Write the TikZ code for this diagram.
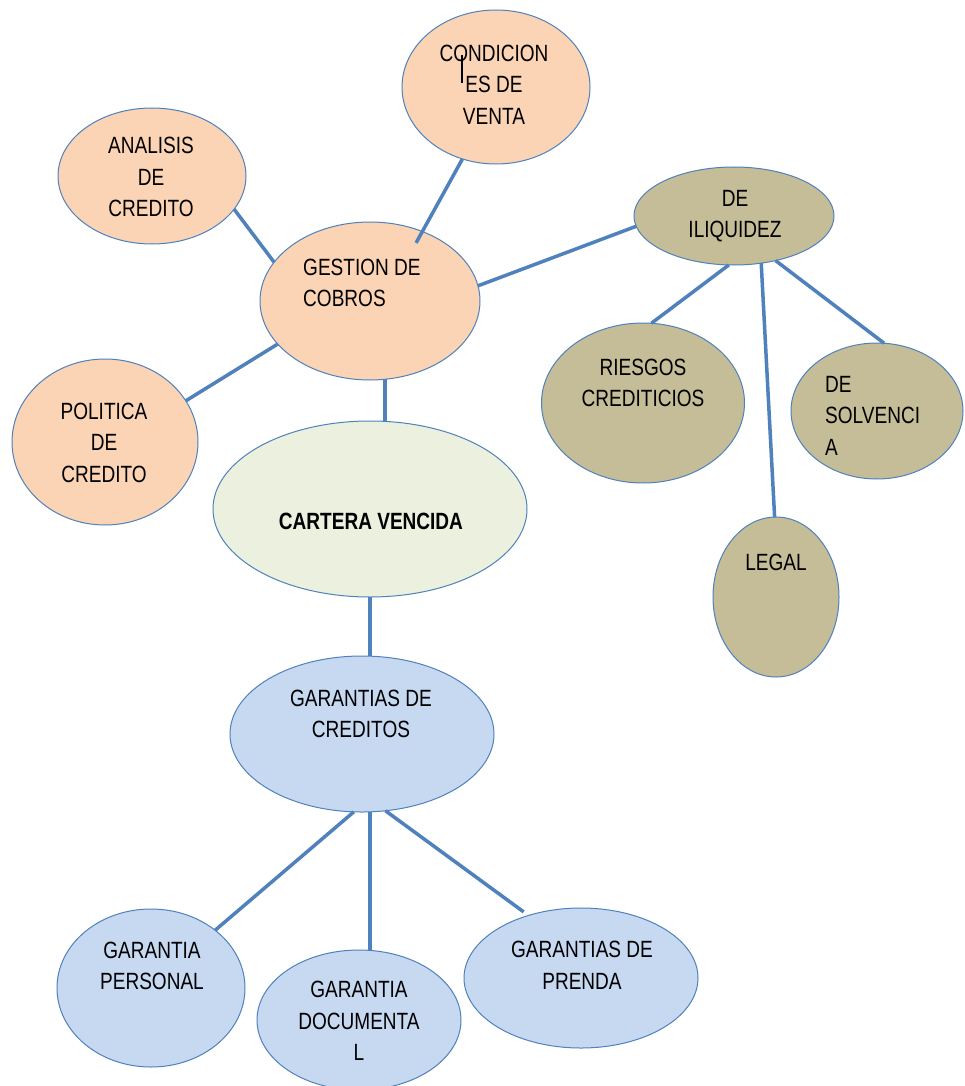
\documentclass[tikz,border=0pt]{standalone}
\usepackage{fontspec}
\setmainfont{Liberation Sans}[FakeStretch=0.81]
\usetikzlibrary{shapes.geometric}
\definecolor{peach}{HTML}{FAD4B4}
\definecolor{khaki}{HTML}{C4BD97}
\definecolor{palegreen}{HTML}{EBF1DE}
\definecolor{paleblue}{HTML}{C6D9F1}
\definecolor{edgeblue}{HTML}{4F81BD}
\begin{document}
\begin{tikzpicture}[x=1pt,y=-1pt,
  bubble/.style={ellipse, draw=edgeblue, line width=1pt, inner sep=0pt, outer sep=0pt},
  orangebubble/.style={bubble, fill=peach},
  olivebubble/.style={bubble, fill=khaki},
  greenbubble/.style={bubble, fill=palegreen},
  bluebubble/.style={bubble, fill=paleblue},
  lbl/.style={inner sep=0pt, align=center, font=\fontsize{23.5}{31.5}\selectfont},
  lblleft/.style={lbl, align=left, anchor=west},
  link/.style={draw=edgeblue, line width=3.5pt}]
\useasboundingbox[fill=white] (0,0) rectangle (964,1086);

% bubbles
\node[orangebubble, minimum width=188pt, minimum height=154pt] (cond) at (496,87) {};
\node[orangebubble, minimum width=188pt, minimum height=136pt] (analisis) at (152,176) {};
\node[orangebubble, minimum width=220pt, minimum height=158pt] (gestion) at (370,301) {};
\node[orangebubble, minimum width=186pt, minimum height=166pt] (politica) at (105,442) {};
\node[olivebubble, minimum width=200pt, minimum height=98pt] (iliq) at (734,216) {};
\node[olivebubble, minimum width=203pt, minimum height=160pt] (riesgos) at (643,403) {};
\node[olivebubble, minimum width=172pt, minimum height=136pt] (solv) at (877,411) {};
\node[olivebubble, minimum width=126pt, minimum height=160pt] (legal) at (776,597) {};
\node[greenbubble, minimum width=314pt, minimum height=176pt] (cartera) at (370,509) {};
\node[bluebubble, minimum width=264pt, minimum height=156pt] (garantias) at (362,734) {};
\node[bluebubble, minimum width=188pt, minimum height=158pt] (personal) at (151,988) {};
\node[bluebubble, minimum width=204pt, minimum height=140pt] (documental) at (359,1020) {};
\node[bluebubble, minimum width=234pt, minimum height=140pt] (prenda) at (581,978) {};

% labels
\node[lbl] (condtxt) at (494,84.5) {CONDICION\\ES DE\\VENTA};
\node[lbl] (analisistxt) at (151,177) {ANALISIS\\DE\\CREDITO};
\node[lblleft] (gestiontxt) at (303,283) {GESTION DE\\COBROS};
\node[lbl] (politicatxt) at (104,442.5) {POLITICA\\DE\\CREDITO};
\node[lbl] (iliqtxt) at (735,216) {DE\\ILIQUIDEZ};
\node[lbl] (riesgostxt) at (643,383) {RIESGOS\\CREDITICIOS};
\node[lblleft] (solvtxt) at (825,415.5) {DE\\SOLVENCI\\A};
\node[lbl] (legaltxt) at (776,562) {LEGAL};
\node[lbl, font=\fontsize{23.5}{31.5}\selectfont\bfseries] (carteratxt) at (371,521) {CARTERA VENCIDA};
\node[lbl] (garantiastxt) at (361,714) {GARANTIAS DE\\CREDITOS};
\node[lbl] (personaltxt) at (152,966) {GARANTIA\\PERSONAL};
\node[lbl] (documentaltxt) at (359,1021) {GARANTIA\\DOCUMENTA\\L};
\node[lbl] (prendatxt) at (582,965.5) {GARANTIAS DE\\PRENDA};

% text cursor mark
\draw[line width=1.5pt] (461.8,55) -- (461.8,83);

% connectors
\draw[link] (analisis.-22) -- (gestion.158);
\draw[link, shorten >=-13pt] (cond.-115) -- (gestion.53);
\draw[link] (gestion.8) -- (iliq.186);
\draw[link] (gestion.-155) -- (politica.27);
\draw[link] (gestion.-79) -- (gestion.-79 |- cartera.north);
\draw[link] (iliq.-96) -- (riesgos.84);
\draw[link] (iliq.-60) -- (legal.91);
\draw[link] (iliq.-47) -- (solv.84);
\draw[link] (cartera.south) -- (cartera.south |- garantias.north);
\draw[link] (garantias.-96) -- (personal.42);
\draw[link] (garantias.-84) -- (garantias.-84 |- documental.north);
\draw[link, shorten >=6pt] (garantias.-73) -- (prenda.130);
\end{tikzpicture}
\end{document}
